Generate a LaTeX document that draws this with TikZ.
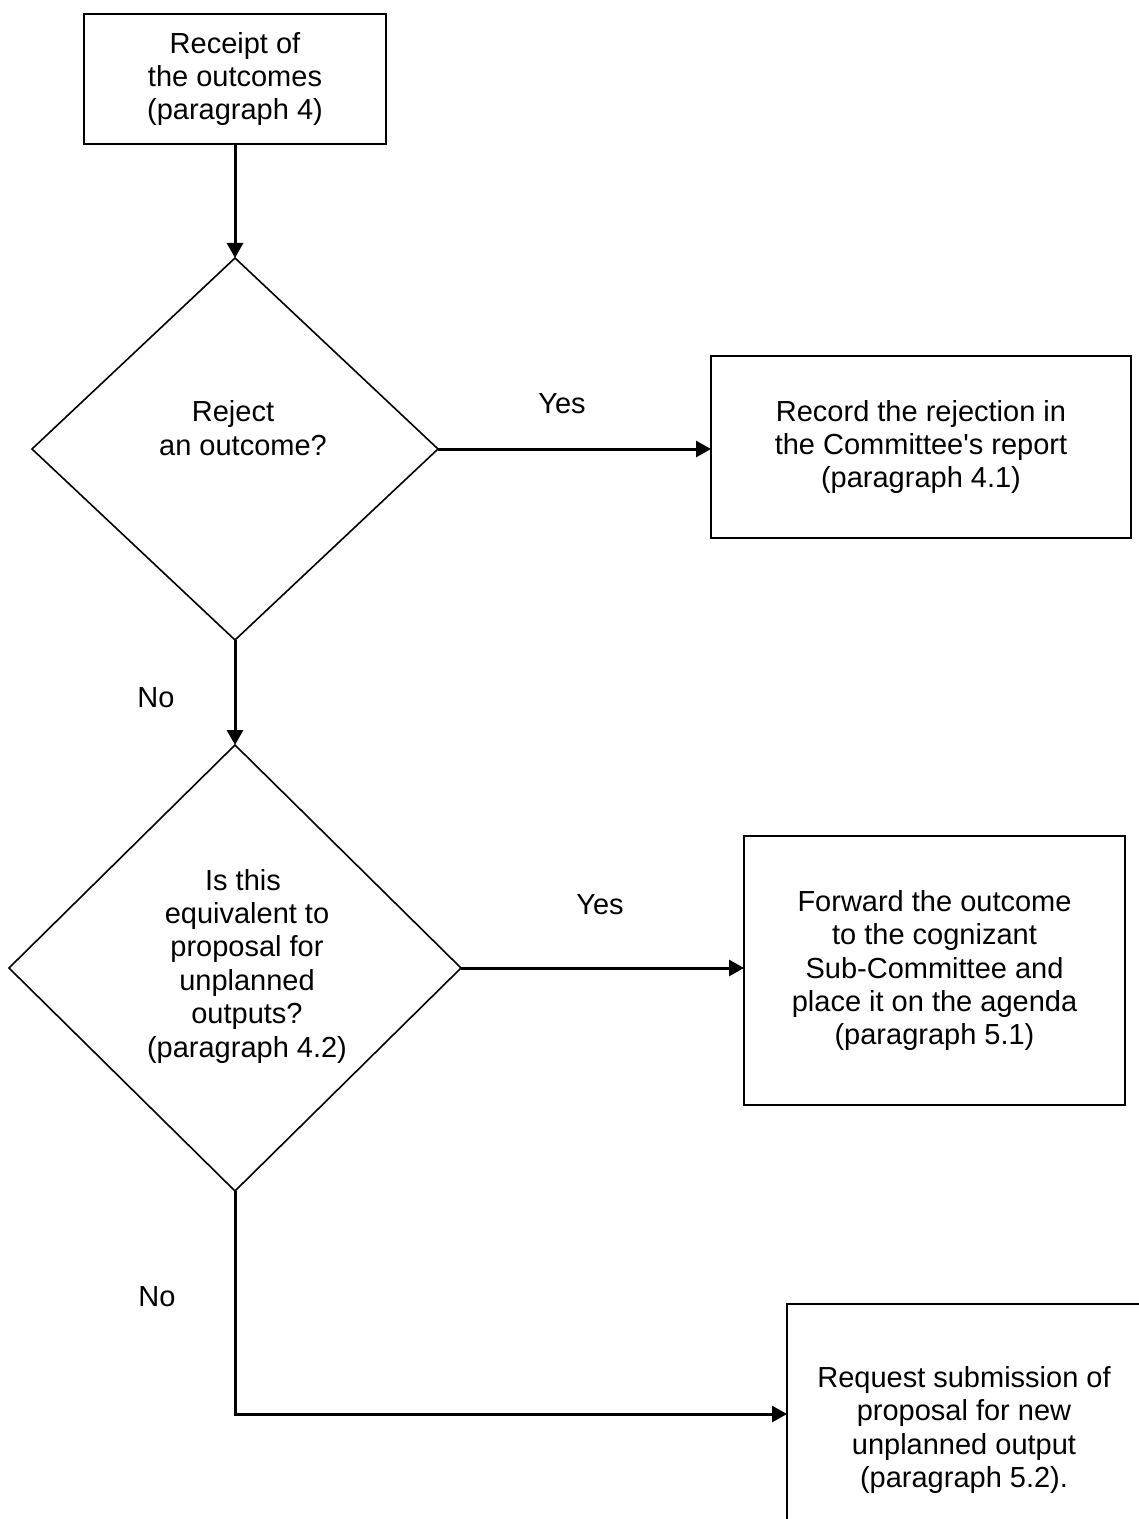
\documentclass[tikz,border=0pt]{standalone}
\usepackage{fontspec}
\newfontfamily\arialf{Liberation Sans}
\usetikzlibrary{shapes.geometric,arrows.meta}
\begin{document}
\begin{tikzpicture}[x=0.5pt,y=-0.5pt,
  font=\arialf\fontsize{14.5pt}{16.7pt}\selectfont,
  box/.style={draw, line width=1.1pt, inner sep=0pt, outer sep=0pt, align=center},
  dec/.style={draw, diamond, line width=0.8pt, inner sep=0pt, outer sep=0pt},
  txt/.style={inner sep=0pt, align=center},
  arr/.style={line width=1.5pt, -{Triangle[length=7.5pt,width=8pt]}}]
\useasboundingbox (0,0) rectangle (1139,1519);
\clip (0,0) rectangle (1139,1519);
\fill[white] (0,0) rectangle (1139,1519);

\node[box, minimum width=151pt, minimum height=65pt] (b1) at (235,79) {Receipt of\\the outcomes\\(paragraph 4)};

\node[dec, minimum width=203pt, minimum height=191pt] (d1) at (235,449) {};
\node[txt] (d1t) at (233,428) {Reject\\\hspace*{10pt}an outcome?};

\node[box, minimum width=210pt, minimum height=91pt] (b2) at (921,447) {Record the rejection in\\the Committee's report\\(paragraph 4.1)};

\node[dec, minimum width=226pt, minimum height=223pt] (d2) at (235,968) {};
\node[txt] (d2t) at (247,966) {Is this\hspace*{4pt}\\equivalent to\\proposal for\\unplanned\\outputs?\\(paragraph 4.2)};

\node[box, minimum width=190.5pt, minimum height=134.5pt] (b3) at (934.5,970.5) {Forward the outcome\\to the cognizant\\Sub-Committee and\\place it on the agenda\\(paragraph 5.1)};

\node[box, minimum width=177pt, minimum height=126pt] (b4) at (964,1430) {Request submission of\\proposal for new\\unplanned output\\(paragraph 5.2).};

\node[txt] (y1) at (562,404) {Yes};
\node[txt] (y2) at (600,905) {Yes};
\node[txt] (n1) at (156,698) {No};
\node[txt] (n2) at (157,1297) {No};

\coordinate (t4) at (787,1414);

\draw[arr] (b1.south) -- (d1.north);
\draw[arr] (d1.east) -- (d1.east -| b2.west);
\draw[arr] (d1.south) -- (d2.north);
\draw[arr] (d2.east) -- (d2.east -| b3.west);
\draw[arr] (d2.south) |- (t4);
\end{tikzpicture}
\end{document}
